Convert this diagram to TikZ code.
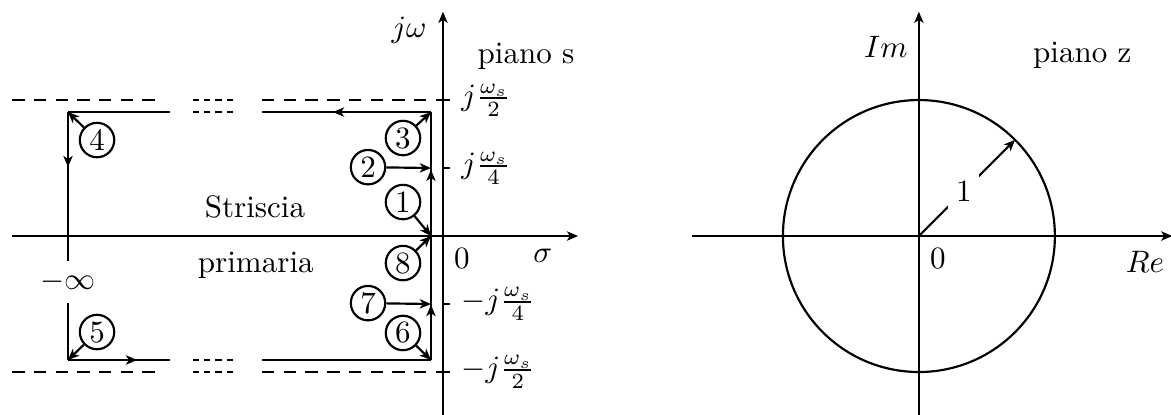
\documentclass[tikz,border=0pt]{standalone}
\usetikzlibrary{arrows.meta,positioning,calc,decorations.markings}

\begin{document}
\begin{tikzpicture}[>={Stealth[length=3.6pt, width=3pt, inset=1pt]}, line width=0.7pt,
  num/.style={draw, circle, inner sep=0pt, minimum size=0.39cm},
  limit/.style={dash pattern=on 4pt off 3pt},
  gapline/.style={dash pattern=on 2pt off 1.6pt},
  midarrow/.style={postaction={decorate}, decoration={markings, mark=at position #1 with {\arrow{>}}}},
  twoarrows/.style={postaction={decorate}, decoration={markings,
      mark=at position 0.222 with {\arrow{>}}, mark=at position 0.767 with {\arrow{>}}}}]
  \useasboundingbox (-5.017,-2.016) rectangle (8.245,2.673);

  % piano s: assi
  \coordinate (o) at (0,0);
  \draw[->] (-4.88,0) -- (1.53,0);
  \draw[->] (0,-2.1) -- (0,2.54);
  \node (jw) at (-0.385,2.333) {$j\omega$};
  \node (sigma) at (1.13,-0.22) {$\sigma$};
  \node (zero) at (0.215,-0.25) {$0$};
  \node (pianos) at (0.94,2.03) {piano s};

  % limiti della striscia
  \foreach \y in {1.54,-1.54} {
    \draw[limit] (-4.88,\y) -- (-3.2,\y);
    \draw[gapline] (-2.83,\y) -- (-2.38,\y);
    \draw[limit] (-2.05,\y) -- (0,\y);
  }
  \foreach \y in {1.54,0.77,-0.77,-1.54}
    \draw (0,\y) -- (0.08,\y);
  \node[right] (wt2) at (0.08,1.54) {$j\frac{\omega_s}{2}$};
  \node[right] (wt4) at (0.08,0.77) {$j\frac{\omega_s}{4}$};
  \node[right] (wb4) at (0.08,-0.77) {$-j\frac{\omega_s}{4}$};
  \node[right] (wb2) at (0.08,-1.54) {$-j\frac{\omega_s}{2}$};

  % percorso
  \coordinate (c1) at (-0.136,1.404);
  \coordinate (c2) at (-4.247,1.404);
  \coordinate (c3) at (-4.247,-1.404);
  \coordinate (c4) at (-0.136,-1.404);
  \coordinate (ca) at (-0.136,0);
  \coordinate (q2) at (-0.136,0.77);
  \coordinate (q7) at (-0.136,-0.77);
  \draw[midarrow=0.58] (c1) -- (-2.05,1.404);
  \draw[gapline] (-2.38,1.404) -- (-2.83,1.404);
  \draw (-3.09,1.404) -- (c2);
  \draw[midarrow=0.222] (c2) -- (c3);
  \draw[midarrow=0.676] (c3) -- (-3.09,-1.404);
  \draw[gapline] (-2.83,-1.404) -- (-2.38,-1.404);
  \draw (-2.05,-1.404) -- (c4);
  \draw[twoarrows] (c4) -- (c1);
  \node[fill=white] (minf) at (-4.25,-0.52) {$-\infty$};

  \node[anchor=base] (stri) at (-2.13,0.215) {Striscia};
  \node[anchor=base] (prim) at (-2.12,-0.41) {primaria};

  % punti numerati
  \node[num] (n1) at (-0.453,0.385) {1};
  \node[num] (n2) at (-0.849,0.78) {2};
  \node[num] (n3) at (-0.453,1.11) {3};
  \node[num] (n4) at (-3.918,1.087) {4};
  \node[num] (n5) at (-3.918,-1.087) {5};
  \node[num] (n6) at (-0.453,-1.098) {6};
  \node[num] (n7) at (-0.849,-0.76) {7};
  \node[num] (n8) at (-0.453,-0.306) {8};
  \draw[->] (n1) -- (ca);
  \draw[->] (n2) -- (q2);
  \draw[->] (n3) -- (c1);
  \draw[->] (n4) -- (c2);
  \draw[->] (n5) -- (c3);
  \draw[->] (n6) -- (c4);
  \draw[->] (n7) -- (q7);
  \draw[->] (n8) -- (ca);

  % piano z
  \begin{scope}[shift={(5.39,0)}]
    \coordinate (zo) at (0,0);
    \coordinate (zr) at (45:1.54);
    \draw[->] (-2.57,0) -- (2.87,0);
    \draw[->] (0,-2.1) -- (0,2.54);
    \draw (zo) circle (1.54);
    \draw[->] (zo) -- (zr);
    \node[fill=white, inner sep=2.5pt] (one) at (0.51,0.51) {1};
    \node (im) at (-0.374,2.14) {$Im$};
    \node (re) at (2.56,-0.29) {$Re$};
    \node (zzero) at (0.215,-0.25) {$0$};
    \node (pianoz) at (1.85,2.05) {piano z};
  \end{scope}
\end{tikzpicture}
\end{document}
